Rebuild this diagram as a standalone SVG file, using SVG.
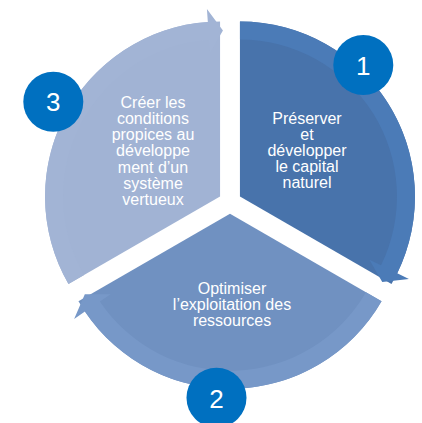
<svg xmlns="http://www.w3.org/2000/svg" xmlns:xlink="http://www.w3.org/1999/xlink" width="422" height="423" viewBox="0 0 422 423">
  <style>
    .lbl { font-family: "Liberation Sans", Arial, sans-serif; font-size: 16px; fill: #FFFFFF; text-anchor: middle; }
    .num { font-family: "Liberation Sans", Arial, sans-serif; font-size: 26px; fill: #FFFFFF; text-anchor: middle; }
    .badge { fill: #0070C0; }
  </style>
  <defs>
    <path id="wedge" d="M0,0 L0,-175 A175,175 0 0 1 151.55,87.5 Z"/>
    <path id="band" d="M0,-175 A175,175 0 0 1 157.29,76.71 L168.97,82.41 L142.29,85.5 L129.43,63.13 L141.11,68.82 A157,157 0 0 0 0,-157 Z"/>
  </defs>
  <rect width="422" height="423" fill="#FFFFFF"/>

  <g id="segment-1">
    <use xlink:href="#wedge" transform="translate(239.96,196.5)" fill="#4873AB"/>
    <use xlink:href="#band" transform="translate(239.96,196.5)" fill="#4B7BB7"/>
    <text class="lbl" x="307" y="123.5">Préserver</text>
    <text class="lbl" x="307" y="139.7">et</text>
    <text class="lbl" x="307" y="155.9">développer</text>
    <text class="lbl" x="307" y="172.1">le capital</text>
    <text class="lbl" x="307" y="188.3">naturel</text>
  </g>

  <g id="segment-2">
    <use xlink:href="#wedge" transform="translate(230,213.75) rotate(120)" fill="#7091C1"/>
    <use xlink:href="#band" transform="translate(230,213.75) rotate(120)" fill="#7798C8"/>
    <text class="lbl" x="232" y="294">Optimiser</text>
    <text class="lbl" x="232" y="310.2">l’exploitation des</text>
    <text class="lbl" x="232" y="326.4">ressources</text>
  </g>

  <g id="segment-3">
    <use xlink:href="#wedge" transform="translate(220.04,196.5) rotate(240)" fill="#A1B3D4"/>
    <use xlink:href="#band" transform="translate(220.04,196.5) rotate(240)" fill="#A2B4D5"/>
    <text class="lbl" x="153" y="107.7">Créer les</text>
    <text class="lbl" x="153" y="123.9">conditions</text>
    <text class="lbl" x="153" y="140.1">propices au</text>
    <text class="lbl" x="153" y="156.3">développe</text>
    <text class="lbl" x="153" y="172.5">ment d’un</text>
    <text class="lbl" x="153" y="188.7">système</text>
    <text class="lbl" x="153" y="204.9">vertueux</text>
  </g>

  <g id="badge-1">
    <circle class="badge" cx="363.3" cy="65" r="30"/>
    <text class="num" x="363.3" y="75">1</text>
  </g>
  <g id="badge-2">
    <circle class="badge" cx="216.5" cy="397.7" r="30"/>
    <text class="num" x="216.5" y="407.7">2</text>
  </g>
  <g id="badge-3">
    <circle class="badge" cx="53.3" cy="101.7" r="30"/>
    <text class="num" x="53.3" y="111.2">3</text>
  </g>

  <g id="connectors"></g>
</svg>
